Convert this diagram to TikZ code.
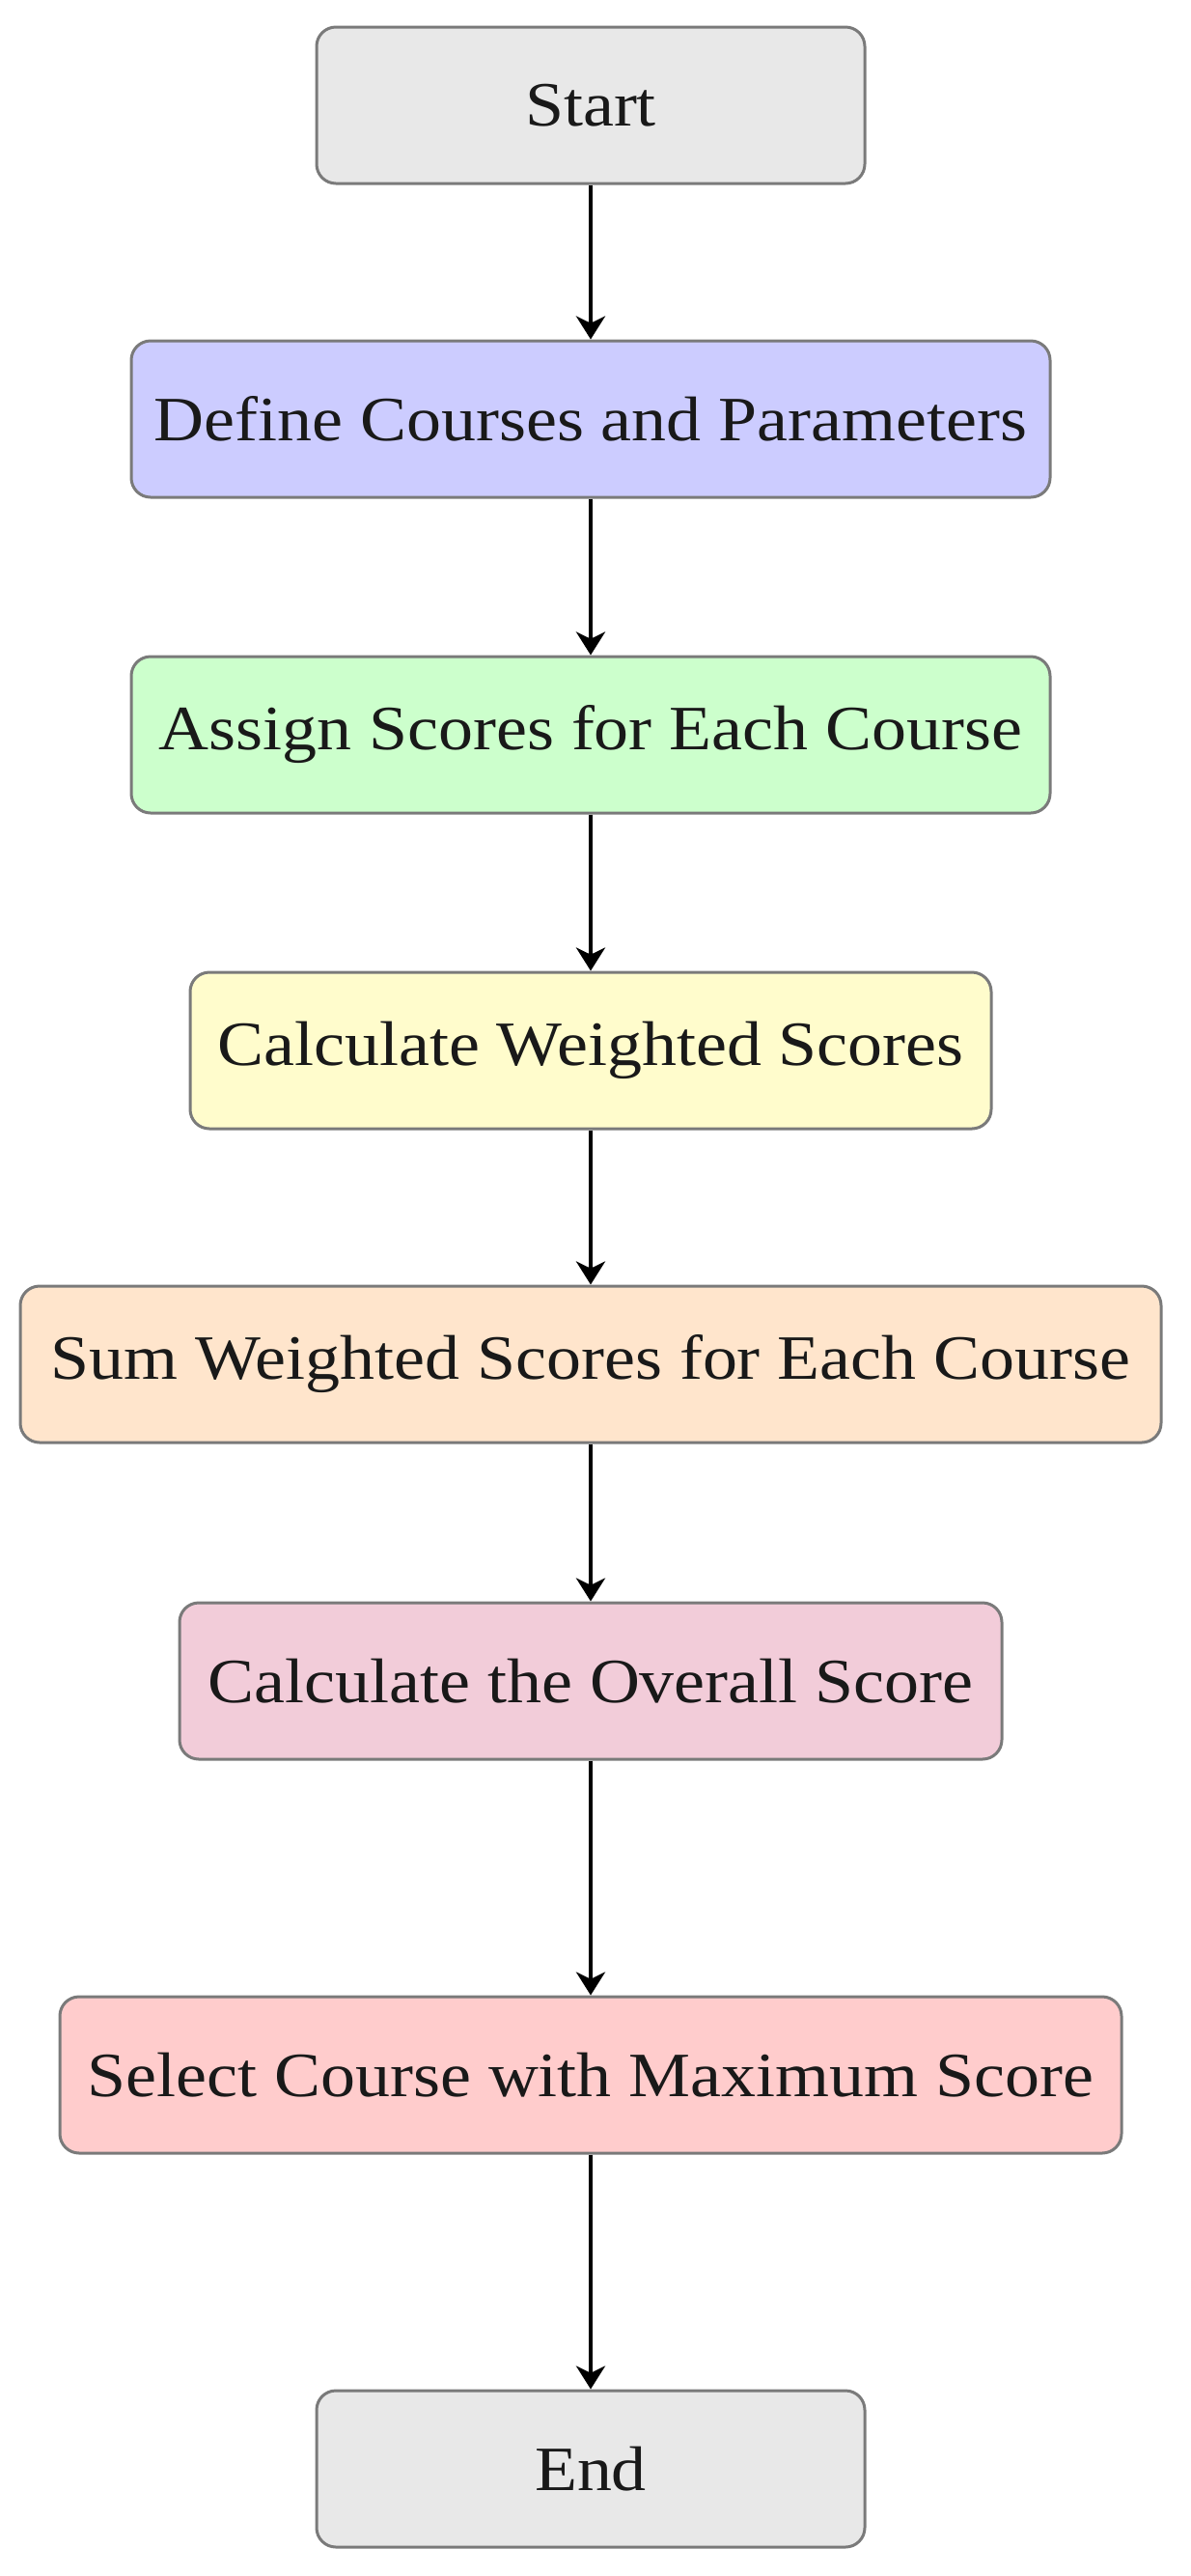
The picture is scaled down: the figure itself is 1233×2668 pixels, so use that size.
\documentclass[tikz,border=0pt]{standalone}
\usepackage{fontspec}
\setmainfont[FakeStretch=1.1]{Liberation Serif}
\usetikzlibrary{arrows.meta}
\definecolor{bordergray}{HTML}{7A7A7A}
\tikzset{
  flowbox/.style={draw=bordergray, line width=0.75pt, rounded corners=5pt,
    minimum height=40.5pt, inner sep=0pt, align=center,
    font=\fontsize{16.35pt}{19pt}\selectfont, text=black!90},
  flowarrow/.style={line width=1pt, -{Stealth[length=6pt,width=7.5pt,inset=1.8pt]}}
}
\begin{document}
\begin{tikzpicture}[x=0.25pt,y=-0.25pt]
\useasboundingbox (0,0) rectangle (1233,2668);
\node[flowbox, fill=black!9, minimum width=142pt] (start) at (612,109) {Start};
\node[flowbox, fill=blue!20, minimum width=238pt] (define) at (612,434) {Define Courses and Parameters};
\node[flowbox, fill=green!20, minimum width=238pt] (assign) at (612,761) {Assign Scores for Each Course};
\node[flowbox, fill=yellow!20, minimum width=207.5pt] (calcw) at (612,1088) {Calculate Weighted Scores};
\node[flowbox, fill=orange!20, minimum width=295.5pt] (sum) at (612,1413) {Sum Weighted Scores for Each Course};
\node[flowbox, fill=purple!20, minimum width=213pt] (overall) at (612,1741) {Calculate the Overall Score};
\node[flowbox, fill=red!20, minimum width=275pt] (select) at (612,2149) {Select Course with Maximum Score};
\node[flowbox, fill=black!9, minimum width=142pt] (end) at (612,2557) {End};
\draw[flowarrow] (start) -- (define);
\draw[flowarrow] (define) -- (assign);
\draw[flowarrow] (assign) -- (calcw);
\draw[flowarrow] (calcw) -- (sum);
\draw[flowarrow] (sum) -- (overall);
\draw[flowarrow] (overall) -- (select);
\draw[flowarrow] (select) -- (end);
\end{tikzpicture}
\end{document}
